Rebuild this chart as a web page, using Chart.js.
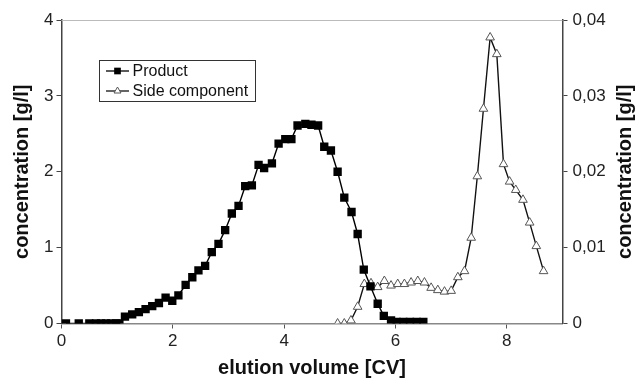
<!DOCTYPE html>
<html>
<head>
<meta charset="utf-8">
<script src="https://cdn.jsdelivr.net/npm/chart.js@4.4.1/dist/chart.umd.min.js"></script>
<style>
html, body { margin: 0; padding: 0; background: #fff; }
</style>
</head>
<body>
<canvas id="chart" width="639" height="380"></canvas>
<script>
// product (left axis, g/l)
const productX = [0.08, 0.31, 0.50, 0.62, 0.71, 0.80, 0.89, 0.98, 1.04, 1.14, 1.27, 1.39, 1.51, 1.63, 1.75, 1.87, 1.99, 2.10, 2.23, 2.35, 2.46, 2.58, 2.70, 2.82, 2.94, 3.06, 3.18, 3.30, 3.42, 3.54, 3.64, 3.78, 3.90, 4.02, 4.13, 4.24, 4.38, 4.49, 4.61, 4.72, 4.84, 4.96, 5.08, 5.21, 5.32, 5.43, 5.55, 5.68, 5.79, 5.92, 6.02, 6.14, 6.26, 6.38, 6.50];
const productY = [0, 0, 0, 0, 0, 0, 0, 0, 0, 0.09, 0.12, 0.15, 0.19, 0.23, 0.27, 0.34, 0.30, 0.37, 0.51, 0.61, 0.70, 0.76, 0.94, 1.05, 1.23, 1.45, 1.55, 1.81, 1.82, 2.09, 2.05, 2.11, 2.37, 2.43, 2.43, 2.61, 2.63, 2.62, 2.61, 2.33, 2.28, 2.00, 1.66, 1.47, 1.18, 0.71, 0.49, 0.26, 0.10, 0.04, 0.02, 0.02, 0.02, 0.02, 0.02];

// side component (right axis, g/l)
const sideX = [4.96, 5.08, 5.20, 5.32, 5.44, 5.56, 5.68, 5.80, 5.92, 6.04, 6.16, 6.28, 6.40, 6.52, 6.64, 6.76, 6.88, 7.00, 7.12, 7.24, 7.36, 7.47, 7.58, 7.70, 7.82, 7.94, 8.05, 8.16, 8.29, 8.41, 8.53, 8.66];
const sideY = [0, 0, 0.0004, 0.0022, 0.0052, 0.0053, 0.0048, 0.0056, 0.0050, 0.0052, 0.0052, 0.0054, 0.0056, 0.0054, 0.0047, 0.0044, 0.0042, 0.0043, 0.0061, 0.0069, 0.0113, 0.0194, 0.0283, 0.0377, 0.0355, 0.0210, 0.0187, 0.0176, 0.0163, 0.0133, 0.0102, 0.0069];

const xTicks = [0, 2, 4, 6, 8];
const leftTicks = [0, 1, 2, 3, 4];
const rightTicks = [0, 0.01, 0.02, 0.03, 0.04];

const FONT = '"Liberation Sans", Arial, Helvetica, sans-serif';
const RIGHT_TITLE = 'concentration [g/l]';

const toPoints = (xs, ys) => xs.map((x, i) => ({ x: x, y: ys[i] }));

// legend box inside the plot
const boxLegend = {
    id: 'boxLegend',
    afterDraw(chart) {
        const ctx = chart.ctx;
        const a = chart.chartArea;
        const x = Math.round(a.left + 37), y = Math.round(a.top + 40);
        ctx.save();
        ctx.strokeStyle = '#333';
        ctx.lineWidth = 1;
        ctx.strokeRect(x + 0.5, y + 0.5, 156, 41);
        chart.data.datasets.forEach((ds, i) => {
            const cy = y + 11 + i * 20;
            ctx.beginPath();
            ctx.moveTo(x + 7, cy);
            ctx.lineTo(x + 30, cy);
            ctx.strokeStyle = ds.borderColor;
            ctx.lineWidth = 1.3;
            ctx.stroke();
            ctx.fillStyle = ds.pointBackgroundColor;
            ctx.strokeStyle = ds.pointBorderColor;
            ctx.lineWidth = ds.pointBorderWidth;
            Chart.helpers.drawPoint(ctx, {
                pointStyle: ds.pointStyle,
                radius: ds.pointRadius * 0.8,
                borderWidth: ds.pointBorderWidth,
                rotation: 0
            }, x + 18.5, cy);
            ctx.fillStyle = '#111';
            ctx.font = '16px ' + FONT;
            ctx.textBaseline = 'middle';
            ctx.fillText(ds.label, x + 33.5, cy + 1);
        });
        ctx.restore();
    }
};

// thin frame line along the top of the plot
const topLine = {
    id: 'topLine',
    beforeDatasetsDraw(chart) {
        const ctx = chart.ctx;
        const a = chart.chartArea;
        ctx.save();
        ctx.strokeStyle = '#bbb';
        ctx.lineWidth = 1;
        ctx.beginPath();
        ctx.moveTo(a.left, Math.round(a.top) + 0.5);
        ctx.lineTo(a.right, Math.round(a.top) + 0.5);
        ctx.stroke();
        ctx.restore();
    }
};

// right axis title reads bottom-to-top like the left one
const rightTitle = {
    id: 'rightTitle',
    afterDraw(chart) {
        const ctx = chart.ctx;
        const a = chart.chartArea;
        ctx.save();
        ctx.translate(625, (a.top + a.bottom) / 2);
        ctx.rotate(-Math.PI / 2);
        ctx.font = 'bold 20px ' + FONT;
        ctx.fillStyle = '#111';
        ctx.textAlign = 'center';
        ctx.textBaseline = 'middle';
        ctx.fillText(RIGHT_TITLE, 0, 0);
        ctx.restore();
    }
};

new Chart(document.getElementById('chart'), {
    type: 'scatter',
    data: {
        datasets: [
            {
                label: 'Product',
                data: toPoints(productX, productY),
                yAxisID: 'y',
                showLine: true,
                borderColor: '#000',
                borderWidth: 1.4,
                pointStyle: 'rect',
                pointRadius: 5.9,
                pointBackgroundColor: '#000',
                pointBorderColor: '#000',
                pointBorderWidth: 0
            },
            {
                label: 'Side component',
                data: toPoints(sideX, sideY),
                yAxisID: 'y2',
                showLine: true,
                borderColor: '#111',
                borderWidth: 1.4,
                pointStyle: 'triangle',
                pointRadius: 5,
                pointBackgroundColor: '#fff',
                pointBorderColor: '#555',
                pointBorderWidth: 1
            }
        ]
    },
    options: {
        responsive: false,
        animation: false,
        devicePixelRatio: 1,
        layout: { padding: { top: 20, left: 0, right: 0, bottom: 0 } },
        plugins: {
            legend: { display: false },
            tooltip: { enabled: false }
        },
        scales: {
            x: {
                type: 'linear',
                position: 'bottom',
                min: 0,
                max: 9,
                afterBuildTicks: s => { s.ticks = xTicks.map(v => ({ value: v })); },
                afterFit: s => { s.height = 56.5; },
                grid: { drawOnChartArea: false, drawTicks: true, tickLength: 5, color: '#555' },
                border: { color: '#888', width: 1.5 },
                ticks: { font: { family: FONT, size: 17 }, color: '#222', padding: 3 },
                title: {
                    display: true,
                    text: 'elution volume [CV]',
                    font: { family: FONT, size: 20, weight: 'bold' },
                    color: '#111',
                    padding: { top: 0, bottom: 0 }
                }
            },
            y: {
                type: 'linear',
                position: 'left',
                min: 0,
                max: 4,
                afterBuildTicks: s => { s.ticks = leftTicks.map(v => ({ value: v })); },
                afterFit: s => { s.width = 61.5; },
                grid: { drawOnChartArea: false, drawTicks: true, tickLength: 5, color: '#444' },
                border: { color: '#444', width: 1.5 },
                ticks: { font: { family: FONT, size: 17 }, color: '#222', padding: 3 },
                title: {
                    display: true,
                    text: 'concentration [g/l]',
                    font: { family: FONT, size: 20, weight: 'bold' },
                    color: '#111',
                    padding: { top: 10, bottom: 0 }
                }
            },
            y2: {
                type: 'linear',
                position: 'right',
                min: 0,
                max: 0.04,
                afterBuildTicks: s => { s.ticks = rightTicks.map(v => ({ value: v })); },
                afterFit: s => { s.width = 76.5; },
                grid: { drawOnChartArea: false, drawTicks: true, tickLength: 5, color: '#444' },
                border: { color: '#444', width: 1.5 },
                ticks: {
                    font: { family: FONT, size: 17 },
                    color: '#222',
                    padding: 5,
                    callback: v => v === 0 ? '0' : v.toFixed(2).replace('.', ',')
                },
                title: { display: false }
            }
        }
    },
    plugins: [topLine, rightTitle, boxLegend]
});
</script>
</body>
</html>
